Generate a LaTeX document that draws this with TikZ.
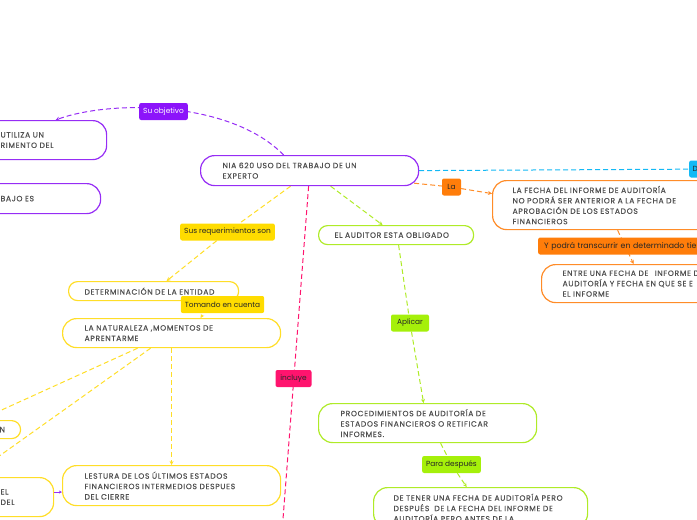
\documentclass[tikz,border=0pt]{standalone}
\usepackage{fontspec}
\setmainfont{Poppins}
\newfontfamily\boxfont{Poppins}[LetterSpace=9,FakeBold=0.5]
\usetikzlibrary{arrows.meta,backgrounds}
\definecolor{cPurple}{RGB}{150,45,245}
\definecolor{cPurpleF}{RGB}{140,20,250}
\definecolor{cBlue}{RGB}{20,185,245}
\definecolor{cOrange}{RGB}{255,140,40}
\definecolor{cOrangeF}{RGB}{255,125,10}
\definecolor{cGreen}{RGB}{175,235,40}
\definecolor{cGreenF}{RGB}{165,240,10}
\definecolor{cYellow}{RGB}{255,222,40}
\definecolor{cYellowF}{RGB}{255,220,0}
\definecolor{cPink}{RGB}{255,20,110}
\definecolor{cText}{RGB}{80,80,80}
\tikzset{
  box/.style={draw, line width=1.2pt, fill=white, anchor=north west, rounded corners=14pt,
    align=left, font=\boxfont\fontsize{7.6}{10.4}\selectfont, text=cText, inner ysep=0pt},
  lbl/.style={rounded corners=2pt, inner xsep=4pt, inner ysep=0pt, minimum height=17pt,
    font=\fontsize{7.4}{8}\selectfont, text=black!85},
  conn/.style={dash pattern=on 5pt off 3pt, line width=1pt},
  tip/.style={-{Stealth[length=4pt,width=4pt]}}
}
\begin{document}
\begin{tikzpicture}[x=1pt,y=-1pt]
\useasboundingbox (0,0) rectangle (697,520);
% main
\node[box, draw=cPurple, minimum width=218pt, minimum height=30pt, inner xsep=22pt, text width=174pt] (main) at (200,155) {NIA 620 USO DEL TRABAJO DE UN\\EXPERTO};
% purple nodes (left, clipped)
\node[box, draw=cPurple, minimum width=136pt, minimum height=39pt, inner xsep=30pt, text width=76pt] (obj1) at (-30,120) {UTILIZA UN\\RIMENTO DEL};
\node[box, draw=cPurple, minimum width=130pt, minimum height=30pt, inner xsep=30pt, text width=70pt] (obj2) at (-30,183) {BAJO ES};
% orange nodes
\node[box, draw=cOrange, minimum width=230pt, minimum height=49pt, inner xsep=20pt, text width=190pt] (or1) at (492,180) {LA FECHA DEL INFORME DE AUDITORÍA\\NO PODRÁ SER ANTERIOR A LA FECHA DE\\APROBACIÓN DE LOS ESTADOS\\FINANCIEROS};
\node[box, draw=cOrange, minimum width=200pt, minimum height=38pt, inner xsep=21pt, text width=158pt] (or2) at (541,264) {ENTRE UNA FECHA DE \ \,INFORME D\\AUDITORÍA Y FECHA EN QUE SE E\\EL INFORME};
% green nodes
\node[box, draw=cGreen, rounded corners=9pt, minimum width=155pt, minimum height=19pt, inner xsep=16pt, text width=123pt] (gr1) at (318,225) {EL AUDITOR ESTA OBLIGADO};
\node[box, draw=cGreen, minimum width=218pt, minimum height=39pt, inner xsep=22pt, text width=174pt] (gr2) at (318,403) {PROCEDIMIENTOS DE AUDITORÍA DE\\ESTADOS FINANCIEROS O RETIFICAR\\INFORMES.};
\node[box, draw=cGreen, minimum width=214pt, minimum height=40pt, inner xsep=20pt, text width=174pt] (gr3) at (373,487) {DE TENER UNA FECHA DE AUDITORÍA PERO\\DESPUÉS \ DE LA FECHA DEL INFORME DE\\AUDITORÍA PERO ANTES DE LA};
% yellow nodes
\node[box, draw=cYellow, rounded corners=9pt, minimum width=170pt, minimum height=19pt, inner xsep=16pt, text width=138pt] (det) at (68,281) {DETERMINACIÓN DE LA ENTIDAD};
\node[box, draw=cYellow, minimum width=218pt, minimum height=29pt, inner xsep=22pt, text width=174pt] (nat) at (62,318) {LA NATURALEZA ,MOMENTOS DE\\APRENTARME};
\node[box, draw=cYellow, minimum width=218pt, minimum height=40pt, inner xsep=22pt, text width=174pt] (les) at (62,465) {LESTURA DE LOS ÚLTIMOS ESTADOS\\FINANCIEROS INTERMEDIOS DESPUES\\DEL CIERRE};
\node[box, draw=cYellow, minimum width=73pt, minimum height=39pt, inner xsep=20pt, text width=33pt] (eldel) at (-20,477) {EL\\DEL};
\node[box, draw=cYellow, rounded corners=9pt, minimum width=30pt, minimum height=18pt, inner xsep=9pt, text width=12pt] (nn) at (-10,420) {N};
% labels
\node[lbl, fill=cPurpleF, text=white] (lobj) at (163.5,111.5) {Su objetivo};
\node[lbl, fill=cBlue, anchor=west, inner xsep=3.5pt] (lblue) at (689,169) {D};
\node[lbl, fill=cOrangeF, minimum width=19pt, inner xsep=2pt] (lla) at (451.5,187) {La};
\node[lbl, fill=cOrangeF, anchor=west, inner xsep=6pt, text width=170pt, align=left, font=\fontsize{7.8}{8}\selectfont] (ltiem) at (538,246) {Y podrá transcurrir en determinado tiem};
\node[lbl, fill=cGreenF, minimum width=38pt] (lapl) at (410,323) {Aplicar};
\node[lbl, fill=cGreenF] (lpara) at (451.5,464.5) {Para después};
\node[lbl, fill=cYellowF] (lsus) at (227.5,232) {Sus requerimientos son};
\node[lbl, fill=cYellowF] (ltom) at (222.5,304.5) {Tomando en cuenta};
\node[lbl, fill=cPink, minimum width=36pt] (linc) at (293.5,378.5) {incluye};
% free ends
\coordinate (offA) at (-60,438);
\coordinate (offB) at (-40,484);
\coordinate (offP) at (281,545);
\coordinate (offBl) at (720,169);
\begin{scope}[on background layer]
\draw[conn, cPurple, tip] ([xshift=-26pt]main.north) .. controls (230,100) and (110,100) .. ([xshift=17pt]obj1.north);
\draw[conn, cBlue] (main.east) -- (offBl);
\draw[conn, cOrange, tip] ([shift={(-5pt,3pt)}]main.south east) -- (lla) -- ([yshift=11.5pt]or1.west);
\draw[conn, cOrange, tip] ([xshift=10pt]or1.south) -- ([xshift=-8pt]or2.north);
\draw[conn, cGreen, tip] ([xshift=21pt]main.south) -- ([xshift=-13.5pt]gr1.north);
\draw[conn, cGreen, tip] ([xshift=2.5pt]gr1.south) -- (lapl) -- ([xshift=-4pt]gr2.north);
\draw[conn, cGreen, tip] ([xshift=13pt]gr2.south) -- (lpara) -- ([xshift=-14pt]gr3.north);
\draw[conn, cYellow, tip] ([xshift=-19pt]main.south) -- (lsus) -- ([xshift=13pt]det.north);
\draw[conn, cYellow, tip] ([xshift=57pt]det.south) -- ([xshift=29pt]nat.north);
\draw[conn, cYellow, tip] ([xshift=-34pt]nat.south) -- (offA);
\draw[conn, cYellow, tip] ([xshift=-21pt]nat.south) -- (offB);
\draw[conn, cYellow, tip] (nat.south) -- (les.north);
\draw[conn, cPink] ([xshift=-1pt]main.south) -- (offP);
\end{scope}
\draw[cPurple, line width=0.8pt, -{Stealth[length=3pt,width=3pt]}] ([yshift=5pt]eldel.east) -- ([yshift=5pt]eldel.east -| les.west);
\end{tikzpicture}
\end{document}
